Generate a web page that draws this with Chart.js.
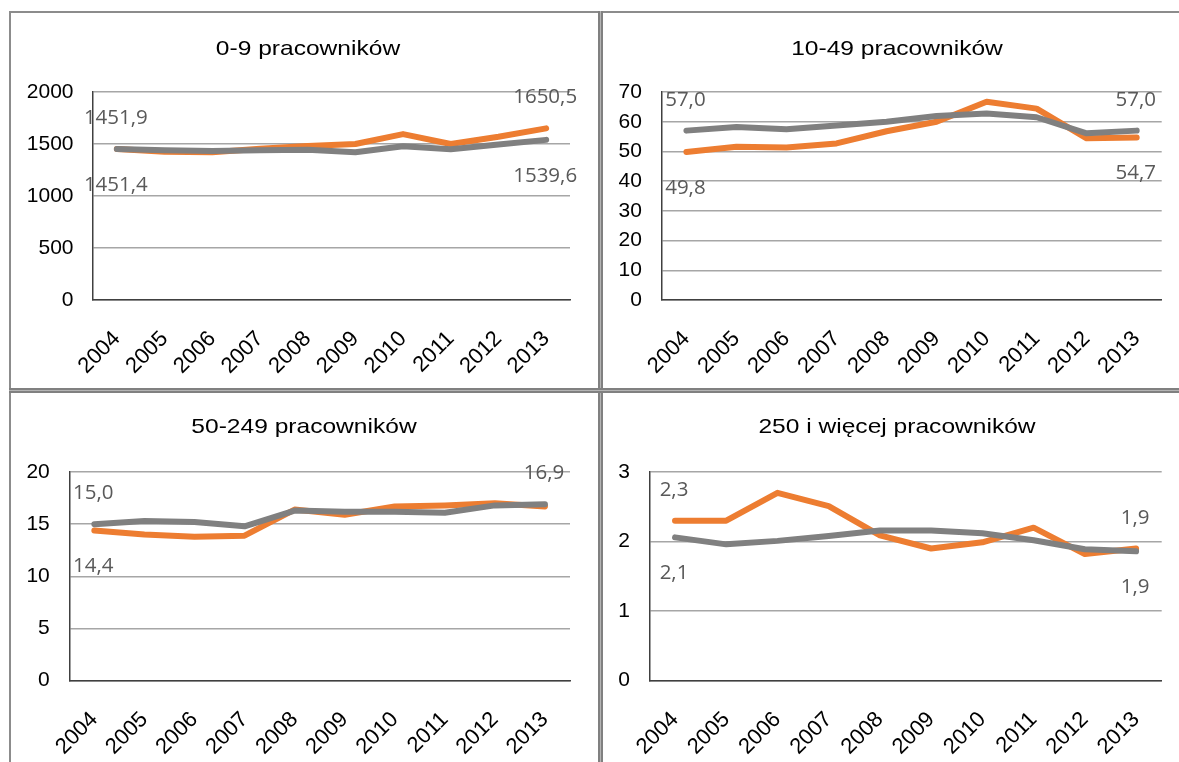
<!DOCTYPE html>
<html>
<head>
<meta charset="utf-8">
<script src="https://cdn.jsdelivr.net/npm/chart.js@4.4.1/dist/chart.umd.min.js"></script>
<style>
body { margin: 0; background: #fff; width: 1179px; height: 762px; overflow: hidden; position: relative; }
canvas { position: absolute; }
.edge { position: absolute; background: #8c8c8c; }
.sep_v { position: absolute; left: 598px; top: 11px; width: 1px; height: 751px; border-left: 2px solid #808080; border-right: 2px solid #808080; background: #b4b4b4; }
.sep_h { position: absolute; left: 9px; top: 388px; width: 1170px; height: 1px; border-top: 2px solid #808080; border-bottom: 2px solid #808080; background: #b4b4b4; }
</style>
</head>
<body>
<div class="edge" style="left:9px; top:11px; width:1170px; height:2px;"></div>
<div class="edge" style="left:9px; top:11px; width:2px; height:751px;"></div>
<div class="sep_v"></div>
<div class="sep_h"></div>
<canvas id="chart_micro" width="587" height="375" style="left:11px; top:13px;"></canvas>
<canvas id="chart_small" width="576" height="375" style="left:603px; top:13px;"></canvas>
<canvas id="chart_medium" width="587" height="370" style="left:11px; top:392px;"></canvas>
<canvas id="chart_large" width="576" height="370" style="left:603px; top:392px;"></canvas>
<script>
const years = ['2004', '2005', '2006', '2007', '2008', '2009', '2010', '2011', '2012', '2013'];

// 0-9 pracowników
const micro_gray = [1451.4, 1440, 1432, 1440, 1445, 1420, 1478, 1450, 1495, 1539.6];
const micro_orange = [1451.9, 1425, 1420, 1455, 1480, 1500, 1595, 1500, 1570, 1650.5];
// 10-49 pracowników
const small_gray = [57.0, 58.2, 57.5, 58.7, 60.0, 61.9, 62.8, 61.5, 56.1, 57.0];
const small_orange = [49.8, 51.6, 51.3, 52.7, 56.8, 60.0, 66.7, 64.4, 54.4, 54.7];
// 50-249 pracowników
const medium_gray = [15.0, 15.3, 15.2, 14.8, 16.3, 16.2, 16.2, 16.1, 16.8, 16.9];
const medium_orange = [14.4, 14.0, 13.8, 13.9, 16.4, 15.9, 16.7, 16.8, 17.0, 16.7];
// 250 i więcej pracowników
const large_gray = [2.06, 1.96, 2.01, 2.08, 2.16, 2.16, 2.12, 2.02, 1.89, 1.86];
const large_orange = [2.3, 2.3, 2.7, 2.51, 2.09, 1.9, 1.99, 2.2, 1.82, 1.9];

const y_max = [2000, 70, 20, 3];
const y_step = [500, 10, 5, 1];

// value labels: [dataset (0 gray, 1 orange), year index, side]
const micro_labels = [[1, 0, 'up'], [0, 0, 'down'], [1, 9, 'up'], [0, 9, 'down']];
const small_labels = [[0, 0, 'up'], [1, 0, 'down'], [0, 9, 'up'], [1, 9, 'down']];
const medium_labels = [[0, 0, 'up'], [1, 0, 'down'], [0, 9, 'up']];
const large_labels = [[1, 0, 'up'], [0, 0, 'down'], [1, 9, 'up'], [0, 9, 'down']];

const tick_font = {family: '"Liberation Sans", Arial, sans-serif', size: 21};
const x_font = {family: '"Liberation Sans", Arial, sans-serif', size: 22};

// draws the panel title and the start/end value labels
const panel_text = {
    id: 'panel_text',
    afterDraw(chart, args, opts) {
        const ctx = chart.ctx;
        ctx.save();
        ctx.font = '21px "Liberation Sans", Arial, sans-serif';
        ctx.fillStyle = '#000';
        ctx.textAlign = 'center';
        ctx.textBaseline = 'alphabetic';
        ctx.translate(opts.title_x, opts.title_y);
        ctx.scale(1.17, 1);   // title is a bit wider in the source
        ctx.fillText(opts.title, 0, 0);
        ctx.restore();

        ctx.save();
        ctx.font = '20.5px "Open Sans", sans-serif';
        ctx.fillStyle = '#595959';
        ctx.textAlign = 'center';
        ctx.textBaseline = 'alphabetic';
        for (const lab of opts.labels) {
            const ds = chart.data.datasets[lab[0]];
            const pt = chart.getDatasetMeta(lab[0]).data[lab[1]];
            const txt = ds.data[lab[1]].toFixed(1).replace('.', ',');
            const y = lab[2] == 'up' ? pt.y - 25 : pt.y + 42;
            ctx.fillText(txt, pt.x - 1, y);
        }
        ctx.restore();
    }
};

function make_chart(canvas_id, idx, title, gray, orange, labels, geo) {
    return new Chart(document.getElementById(canvas_id), {
        type: 'line',
        data: {
            labels: years,
            datasets: [
                {data: gray, borderColor: '#808080', borderWidth: 6, pointRadius: 0, tension: 0,
                 borderCapStyle: 'round', borderJoinStyle: 'round'},
                {data: orange, borderColor: '#ED7D31', borderWidth: 6, pointRadius: 0, tension: 0,
                 borderCapStyle: 'round', borderJoinStyle: 'round'}
            ]
        },
        options: {
            responsive: false,
            animation: false,
            layout: {padding: {top: geo.top, right: geo.pad_right, left: 0, bottom: 0}},
            plugins: {
                legend: {display: false},
                tooltip: {enabled: false},
                panel_text: {title: title, title_x: geo.title_x, title_y: geo.title_y, labels: labels}
            },
            scales: {
                x: {
                    offset: true,
                    grid: {display: false, drawTicks: false},
                    border: {color: '#404040', width: 1.5},
                    ticks: {autoSkip: false, minRotation: 45, maxRotation: 45, padding: 26, color: '#000', font: x_font},
                    afterFit: s => { s.height = geo.x_height; s.paddingLeft = 0; s.paddingRight = 0; }
                },
                y: {
                    min: 0,
                    max: y_max[idx],
                    grid: {color: '#A6A6A6', lineWidth: 1.5, drawTicks: false},
                    border: {color: '#404040', width: 1.5},
                    ticks: {stepSize: y_step[idx], padding: 19.5, color: '#000', font: tick_font,
                            callback: v => String(v)},
                    afterFit: s => { s.width = geo.axis_x; }
                }
            }
        },
        plugins: [panel_text]
    });
}

make_chart('chart_micro', 0, '0-9 pracowników', micro_gray, micro_orange, micro_labels,
    {axis_x: 82, pad_right: 28, top: 79, x_height: 88, title_x: 297, title_y: 42});
make_chart('chart_small', 1, '10-49 pracowników', small_gray, small_orange, small_labels,
    {axis_x: 58.4, pad_right: 17.3, top: 79, x_height: 88, title_x: 294, title_y: 42});
make_chart('chart_medium', 2, '50-249 pracowników', medium_gray, medium_orange, medium_labels,
    {axis_x: 58.3, pad_right: 28, top: 80, x_height: 81.3, title_x: 293, title_y: 41.3});
make_chart('chart_large', 3, '250 i więcej pracowników', large_gray, large_orange, large_labels,
    {axis_x: 46.4, pad_right: 17.3, top: 80, x_height: 81.3, title_x: 294, title_y: 41.3});
</script>
</body>
</html>
